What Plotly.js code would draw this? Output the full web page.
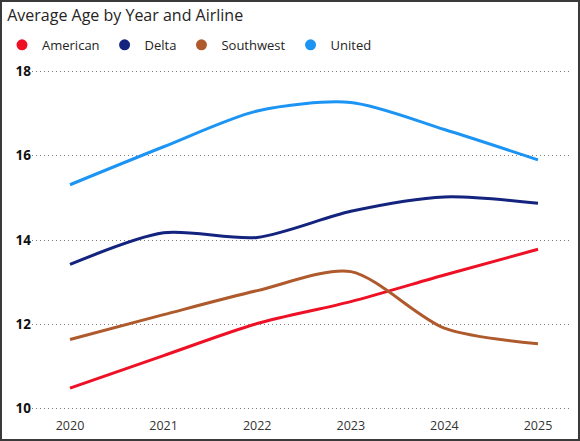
<!DOCTYPE html>
<html>
<head>
<meta charset="utf-8">
<script src="https://cdn.plot.ly/plotly-3.0.1.min.js"></script>
<style>
  html, body { margin: 0; padding: 0; background: #fff; }
  #frame { width: 580px; height: 441px; box-sizing: border-box; border: 2px solid #3a3a3a; }
  #chart { width: 576px; height: 437px; }
</style>
</head>
<body>
<div id="frame"><div id="chart"></div></div>
<script>
// values
const years = [2020, 2021, 2022, 2023, 2024, 2025];
const airlines = ['American', 'Delta', 'Southwest', 'United'];
const american = [10.49, 11.26, 12.02, 12.54, 13.17, 13.78];
const delta = [13.42, 14.17, 14.06, 14.68, 15.02, 14.87];
const southwest = [11.64, 12.23, 12.80, 13.25, 11.91, 11.54];
const united = [15.31, 16.21, 17.06, 17.26, 16.62, 15.90];
const yTicks = [10, 12, 14, 16, 18];

const colors = ['#EE1126', '#13237E', '#AE5A2C', '#1C94F4'];
const series = [american, delta, southwest, united];

const font = 'Segoe UI, "Open Sans", sans-serif';

const traces = [];
series.forEach((vals, i) => {
  traces.push({
    x: years, y: vals, name: airlines[i],
    type: 'scatter', mode: 'lines',
    line: {color: colors[i], width: 3, shape: 'spline', smoothing: 0.8},
    showlegend: false, hoverinfo: 'x+y+name'
  });
});
// legend entries with round markers, like the original
airlines.forEach((name, i) => {
  traces.push({
    x: [null], y: [null], name: name,
    type: 'scatter', mode: 'markers',
    marker: {color: colors[i], size: 11, symbol: 'circle'}
  });
});

const layout = {
  width: 576, height: 437,
  margin: {l: 30, r: 8, t: 68, b: 29},
  paper_bgcolor: '#fff', plot_bgcolor: '#fff',
  font: {family: font, color: '#252423'},
  title: {
    text: 'Average Age by Year and Airline',
    font: {family: font, size: 16, color: '#252423'},
    xref: 'container', x: 0.009, xanchor: 'left',
    yref: 'container', y: 0.970, yanchor: 'middle'
  },
  showlegend: true,
  legend: {
    orientation: 'h', xref: 'container', yref: 'container',
    x: -0.017, xanchor: 'left', y: 0.902, yanchor: 'middle',
    font: {family: font, size: 13, color: '#252423'},
    itemwidth: 30, tracegroupgap: 0, bgcolor: 'rgba(0,0,0,0)'
  },
  xaxis: {
    range: [2019.594, 2025.342],
    tickvals: years, ticktext: years.map(String),
    showgrid: false, zeroline: false, showline: false, ticks: '',
    ticklabelstandoff: 6,
    tickfont: {family: font, size: 12.5, color: '#333'}
  },
  yaxis: {
    range: [9.97, 18.03],
    tickvals: yTicks, ticktext: yTicks.map(String),
    showgrid: true, gridcolor: '#7a7a7a', gridwidth: 1, griddash: '1px,3px',
    zeroline: false, showline: false, ticks: '',
    ticklabelstandoff: 0,
    tickfont: {family: font, size: 13.5, color: '#111', weight: 'bold'}
  }
};

Plotly.newPlot('chart', traces, layout, {displayModeBar: false, staticPlot: true});
</script>
</body>
</html>
